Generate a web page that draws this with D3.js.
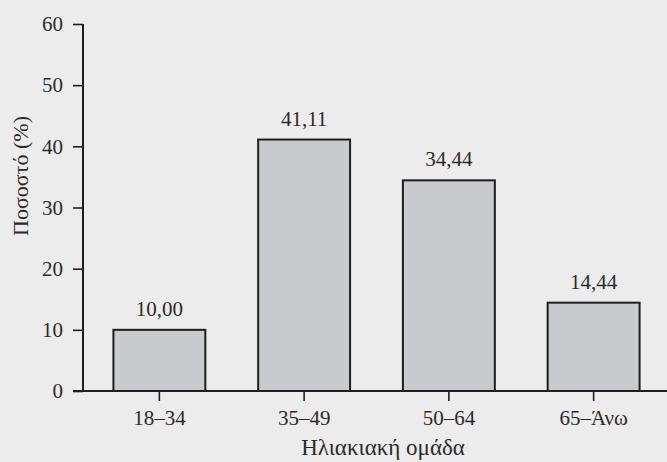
<!DOCTYPE html>
<html>
<head>
<meta charset="utf-8">
<script src="https://cdn.jsdelivr.net/npm/d3@7"></script>
<style>
  html, body { margin: 0; padding: 0; background: #ececec; }
  svg { display: block; }
  text { font-family: "Liberation Serif", "DejaVu Serif", serif; fill: #2b2b2b; }
</style>
</head>
<body>
<svg id="chart" width="667" height="462"></svg>
<script>
// Age groups and the share of respondents in each (%)
const categories = ["18–34", "35–49", "50–64", "65–Άνω"];
const values = [10.00, 41.11, 34.44, 14.44];
const valueLabels = ["10,00", "41,11", "34,44", "14,44"];
const yTicks = [0, 10, 20, 30, 40, 50, 60];
const xTitle = "Ηλιακιακή ομάδα";
const yTitle = "Ποσοστό (%)";

const svg = d3.select("#chart");
const W = 667, H = 462;

svg.append("rect").attr("width", W).attr("height", H).attr("fill", "#ececec");

const x = d3.scaleBand()
  .domain(categories)
  .range([87, 666])
  .paddingInner(0.365)
  .paddingOuter(0.1825);

const y = d3.scaleLinear().domain([0, 60]).range([391, 24]);

const ink = "#1e1e1e";
const textInk = "#2b2b2b";

// Bars
svg.append("g").selectAll("rect")
  .data(values)
  .join("rect")
  .attr("x", (d, i) => x(categories[i]))
  .attr("y", d => y(d))
  .attr("width", x.bandwidth())
  .attr("height", d => y(0) - y(d))
  .attr("fill", "#c9cacd")
  .attr("stroke", ink)
  .attr("stroke-width", 2);

// Value labels above bars
svg.append("g").selectAll("text")
  .data(values)
  .join("text")
  .attr("x", (d, i) => x(categories[i]) + x.bandwidth() / 2)
  .attr("y", d => y(d) - 14)
  .attr("text-anchor", "middle")
  .attr("font-size", 21)
  .text((d, i) => valueLabels[i]);

// Y axis
const yAxis = svg.append("g")
  .attr("transform", "translate(83,0)")
  .call(d3.axisLeft(y).tickValues(yTicks).tickSize(10).tickPadding(10).tickFormat(d3.format("d")));
yAxis.select(".domain").attr("stroke", ink).attr("stroke-width", 2)
  .attr("d", `M0,${y(60)}V${y(0)}`);
yAxis.selectAll(".tick line").attr("stroke", ink).attr("stroke-width", 1.6);
yAxis.selectAll(".tick text").attr("font-size", 21).attr("font-family", "Liberation Serif").attr("fill", textInk);

// X axis
const xAxis = svg.append("g")
  .attr("transform", `translate(0,${y(0)})`)
  .call(d3.axisBottom(x).tickSize(10).tickPadding(9));
xAxis.select(".domain").attr("stroke", ink).attr("stroke-width", 2)
  .attr("d", `M73,0H${W}`);
xAxis.selectAll(".tick line").attr("stroke", ink).attr("stroke-width", 1.6);
xAxis.selectAll(".tick text").attr("font-size", 21).attr("font-family", "Liberation Serif").attr("fill", textInk);

// Axis titles
svg.append("text")
  .attr("x", 383).attr("y", 455)
  .attr("text-anchor", "middle")
  .attr("font-size", 23)
  .text(xTitle);

svg.append("text")
  .attr("transform", "translate(28,176) rotate(-90)")
  .attr("text-anchor", "middle")
  .attr("font-size", 22)
  .text(yTitle);
</script>
</body>
</html>
